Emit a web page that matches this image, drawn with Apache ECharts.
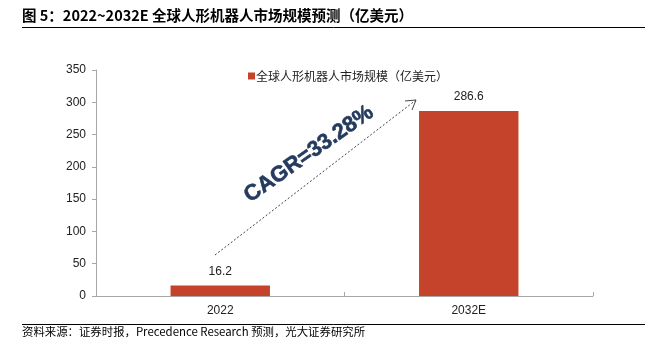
<!DOCTYPE html>
<html><head><meta charset="utf-8">
<script src="https://cdn.jsdelivr.net/npm/echarts@6/dist/echarts.min.js"></script>
<style>html,body{margin:0;padding:0;background:#fff}#c{width:645px;height:345px}</style>
</head><body><div id="c"></div>
<script>
const categories = ['2022', '2032E'];
const marketValues = [16.2, 286.6];
const seriesName = '全球人形机器人市场规模（亿美元）';
const yTicks = [0, 50, 100, 150, 200, 250, 300, 350];
const titleText = '图 5：2022~2032E 全球人形机器人市场规模预测（亿美元）';
const sourceText = '资料来源：证券时报，Precedence Research 预测，光大证券研究所';
const cagrText = 'CAGR=33.28%';

const chart = echarts.init(document.getElementById('c'));
const font = 'Arial, "Liberation Sans", "Noto Sans CJK SC", sans-serif';
chart.setOption({
  animation: false,
  backgroundColor: '#fff',
  grid: { left: 96, right: 52, top: 70, bottom: 49 },
  legend: {
    top: 65, left: 243,
    itemWidth: 7, itemHeight: 7, itemGap: 2,
    icon: 'rect',
    textStyle: { fontSize: 12, color: '#222', fontFamily: '"Noto Sans CJK SC", sans-serif', padding: [0,0,0,-4] },
    data: [seriesName]
  },
  xAxis: {
    type: 'category', data: categories,
    axisLine: { lineStyle: { color: '#a6a6a6' } },
    axisTick: { show: true, inside: true, length: 4, lineStyle: { color: '#a6a6a6' } },
    axisLabel: { color: '#222', fontSize: 12, fontFamily: font, margin: 9 }
  },
  yAxis: {
    type: 'value', min: yTicks[0], max: yTicks[yTicks.length-1], interval: 50,
    axisLine: { show: true, lineStyle: { color: '#a6a6a6' } },
    axisTick: { show: true, length: 4, lineStyle: { color: '#a6a6a6' } },
    splitLine: { show: false },
    axisLabel: { color: '#222', fontSize: 12, fontFamily: font, margin: 10 }
  },
  series: [{
    name: seriesName, type: 'bar', data: marketValues, barWidth: '40%',
    itemStyle: { color: '#C4432A' },
    label: { show: true, position: 'top', distance: 8, color: '#222', fontSize: 12, fontFamily: font }
  }],
  graphic: [
    { type: 'text', left: 22, top: 8, style: { text: titleText, font: 'bold 14.5px "Noto Sans CJK SC", sans-serif', fill: '#000' } },
    { type: 'line', shape: { x1: 22, y1: 27.5, x2: 645, y2: 27.5 }, style: { stroke: '#000', lineWidth: 1 } },
    { type: 'line', shape: { x1: 22, y1: 324.5, x2: 645, y2: 324.5 }, style: { stroke: '#000', lineWidth: 1 } },
    { type: 'text', left: 22, top: 326, style: { text: sourceText, font: '11.4px "Noto Sans CJK SC", sans-serif', fill: '#000' } },
    { type: 'line', shape: { x1: 215, y1: 255, x2: 416, y2: 100 }, style: { stroke: '#444', lineWidth: 1, lineDash: [2, 2] } },
    { type: 'polyline', shape: { points: [[405, 101], [416, 100], [412, 110]] }, style: { stroke: '#444', lineWidth: 1, fill: null } },
    { type: 'text', x: 309, y: 154, rotation: 35 * Math.PI / 180,
      style: { text: cagrText, font: 'bold 22px Arial, "Liberation Sans", sans-serif', fill: '#253b5e',
        stroke: '#2b4063', lineWidth: 0.6,
        align: 'center', verticalAlign: 'middle', shadowBlur: 3, shadowColor: 'rgba(60,80,120,0.6)' } }
  ]
});
</script></body></html>
